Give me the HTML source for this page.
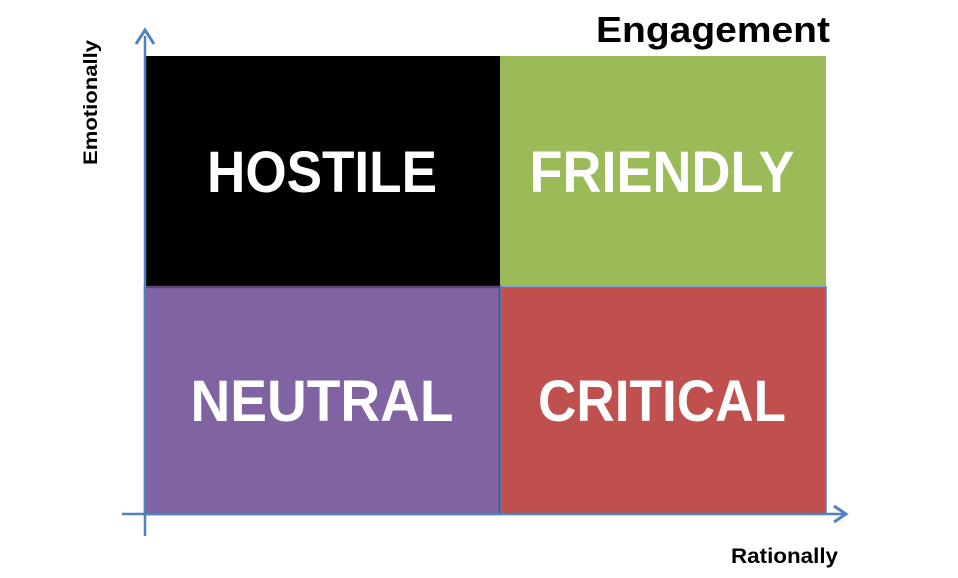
<!DOCTYPE html>
<html><head><meta charset="utf-8"><style>
html,body{margin:0;padding:0;background:#fff;width:958px;height:578px;overflow:hidden}
</style></head><body>
<svg width="958" height="578" viewBox="0 0 958 578" xmlns="http://www.w3.org/2000/svg" font-family="Liberation Sans, sans-serif" font-weight="bold">
<rect x="144" y="56" width="356" height="230" fill="#000"/>
<rect x="500" y="56" width="326" height="230" fill="#9bbb59"/>
<rect x="145" y="287" width="355" height="227" fill="#8064a2" stroke="#5c4776" stroke-width="2.5"/>
<rect x="501" y="287" width="325" height="227" fill="#c0504d" stroke="#4f81bd" stroke-width="1.5"/>
<line x1="145" y1="36" x2="145" y2="536" stroke="#4f81bd" stroke-width="2.5"/>
<path d="M136 44 L145 30 L154 44" fill="none" stroke="#4f81bd" stroke-width="3"/>
<line x1="122" y1="514" x2="844" y2="514" stroke="#4f81bd" stroke-width="2.5"/>
<path d="M834 506 L846 514 L834 522" fill="none" stroke="#4f81bd" stroke-width="3"/>
<g fill="#fff" font-size="58" text-anchor="middle">
<text x="322" y="192" textLength="230" lengthAdjust="spacingAndGlyphs">HOSTILE</text>
<text x="662" y="192" textLength="265" lengthAdjust="spacingAndGlyphs">FRIENDLY</text>
<text x="322" y="421" textLength="263" lengthAdjust="spacingAndGlyphs">NEUTRAL</text>
<text x="662" y="421" textLength="248" lengthAdjust="spacingAndGlyphs">CRITICAL</text>
</g>
<text x="596" y="42" font-size="36" textLength="234" lengthAdjust="spacingAndGlyphs">Engagement</text>
<text x="731" y="563" font-size="21" textLength="107" lengthAdjust="spacingAndGlyphs">Rationally</text>
<text transform="translate(97,165) rotate(-90)" font-size="19" textLength="125" lengthAdjust="spacingAndGlyphs">Emotionally</text>
</svg>
</body></html>
